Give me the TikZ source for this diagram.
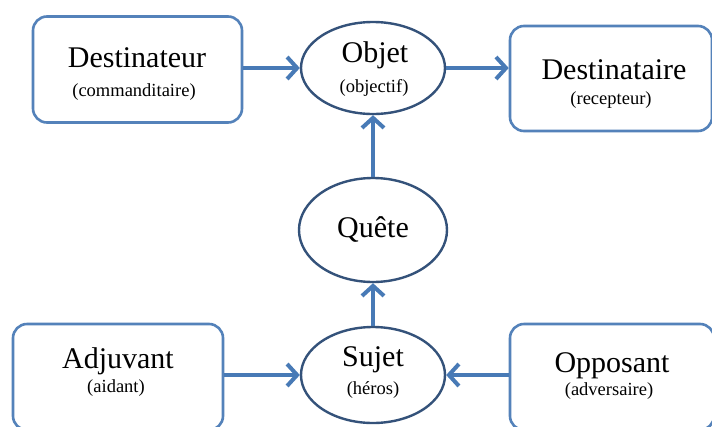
\documentclass[tikz,border=0pt]{standalone}
\usepackage{fontspec}
\setmainfont{Liberation Serif}
\usetikzlibrary{shapes.geometric,arrows.meta}
\definecolor{boxblue}{RGB}{84,130,186}
\definecolor{elldark}{RGB}{52,82,122}
\definecolor{arrblue}{RGB}{72,122,182}
\tikzset{
  rbox/.style={draw=boxblue, line width=2.6pt, rounded corners=14pt, fill=white},
  oval/.style={draw=elldark, line width=2.4pt, ellipse, fill=white, inner sep=0pt},
  conn/.style={draw=arrblue, line width=4pt, -{Straight Barb[length=10pt,width=22pt,line width=4pt]}},
  big/.style={font=\fontsize{30}{31}\selectfont, inner sep=0pt},
  small/.style={font=\fontsize{18.5}{19}\selectfont, inner sep=0pt},
}
\begin{document}
\begin{tikzpicture}[x=1pt,y=-1pt]
\useasboundingbox (0,0) rectangle (712,426);
\fill[white] (0,0) rectangle (712,426);
% boxes
\node[rbox, minimum width=209pt, minimum height=106pt] (destbox) at (137.5,69.5) {};
\node[big] (t1) at (137,58) {Destinateur};
\node[small] (s1) at (134,92) {(commanditaire)};

\node[rbox, minimum width=202pt, minimum height=105pt] (dtabox) at (611,78.5) {};
\node[big] (t2) at (614,70) {Destinataire};
\node[small] (s2) at (611,100) {(recepteur)};

\node[rbox, minimum width=210pt, minimum height=106pt] (adjbox) at (118,377) {};
\node[big] (t3) at (118,361) {Adjuvant};
\node[small] (s3) at (116,388) {(aidant)};

\node[rbox, minimum width=204pt, minimum height=106pt] (oppbox) at (612,377) {};
\node[big] (t4) at (612,366) {Opposant};
\node[small] (s4) at (609,391) {(adversaire)};

% ellipses
\node[oval, minimum width=144pt, minimum height=92pt] (objet) at (373,68) {};
\node[big] (t5) at (375,55) {Objet};
\node[small] (s5) at (374,88) {(objectif)};
\node[oval, minimum width=148pt, minimum height=104pt] (quete) at (373,230) {};
\node[big] (t6) at (373,229) {Quête};
\node[oval, minimum width=144pt, minimum height=96pt] (sujet) at (373,375) {};
\node[big] (t7) at (373,360) {Sujet};
\node[small] (s7) at (373,390) {(héros)};

% arrows
\draw[conn] (destbox.east |- objet.west) -- (objet.west);
\draw[conn] (objet.east) -- (objet.east -| dtabox.west);
\draw[conn] (quete.north) -- (objet.south);
\draw[conn] (sujet.north) -- (quete.south);
\draw[conn] (adjbox.east |- sujet.west) -- (sujet.west);
\draw[conn] (oppbox.west |- sujet.east) -- (sujet.east);
\end{tikzpicture}
\end{document}
